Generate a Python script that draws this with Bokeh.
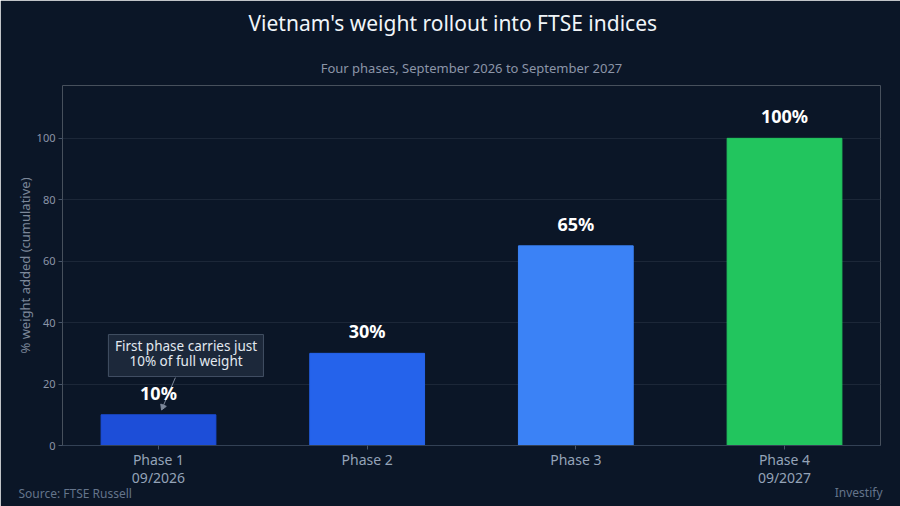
from bokeh.plotting import figure
from bokeh.models import ColumnDataSource, Range1d, FixedTicker, Title
from bokeh.embed import file_html
from bokeh.resources import INLINE

phases = ["Phase 1\n09/2026", "Phase 2", "Phase 3", "Phase 4\n09/2027"]
weights = [10, 30, 65, 100]
bar_labels = ["10%", "30%", "65%", "100%"]
bar_colors = ["#1d4ed8", "#2563eb", "#3b82f6", "#22c55e"]
y_ticks = [0, 20, 40, 60, 80, 100]
note = "First phase carries just\n10% of full weight"

BG = "#0b1627"
FONT = "Noto Sans"

xs = list(range(len(phases)))
src = ColumnDataSource(data=dict(x=xs, top=weights, label=bar_labels, color=bar_colors))

p = figure(width=900, height=506, output_backend="svg", toolbar_location=None, title=None,
           x_range=Range1d(-0.46, 3.46), y_range=Range1d(0, 117.2),
           min_border_left=62, min_border_right=20, min_border_top=85, min_border_bottom=61)
p.background_fill_color = BG
p.border_fill_color = BG
p.outline_line_color = None
p.outline_line_alpha = 0
p.outline_line_width = 0

p.vbar(x="x", top="top", width=0.55, color="color", source=src)

# callout box behind the note
p.quad(left=[-0.240], right=[0.503], bottom=[22.45], top=[36.12],
       fill_color="#1e293b", fill_alpha=0.95, line_color="#475569", line_alpha=0.9)
p.text(x=[0.132], y=[30.0], text=[note], text_align="center", text_baseline="middle",
       text_font={"value": FONT}, text_font_size="13.5px", text_color="#e2e8f0",
       text_line_height=0.87)

# pointer from the note down to the first bar
p.segment(x0=[0.081], y0=[22.1], x1=[0.021], y1=[12.6], line_color="#7c8799", line_width=1)
p.scatter(x=[0.021], y=[12.6], marker="inverted_triangle", size=6, angle=-22.7,
          angle_units="deg", fill_color="#7c8799", line_color="#7c8799")

p.text(x="x", y="top", text="label", source=src, text_align="center", text_baseline="middle",
       y_offset=-22, text_color="#ffffff", text_font_size="18px", text_font_style="bold",
       text_font={"value": FONT})

# axes
p.xaxis.ticker = FixedTicker(ticks=xs)
p.xaxis.major_label_overrides = {i: lab for i, lab in enumerate(phases)}
p.xaxis.major_label_text_font_size = "14px"
p.xaxis.major_label_text_color = "#94a3b8"
p.xaxis.major_label_text_font = FONT
p.xaxis.major_label_text_line_height = 0.95
p.xaxis.axis_line_color = "#334155"
p.xaxis.major_tick_line_color = "#475569"
p.xaxis.major_tick_out = 4
p.xaxis.major_tick_in = 0
p.xaxis.minor_tick_line_color = None
p.xaxis.major_label_standoff = 0

p.yaxis.ticker = FixedTicker(ticks=y_ticks)
p.yaxis.axis_label = "% weight added (cumulative)"
p.yaxis.axis_label_text_font = FONT
p.yaxis.axis_label_text_font_style = "normal"
p.yaxis.axis_label_text_font_size = "13px"
p.yaxis.axis_label_text_color = "#7c8799"
p.yaxis.axis_label_standoff = 0
p.yaxis.major_label_text_font_size = "11px"
p.yaxis.major_label_text_color = "#8b95a7"
p.yaxis.major_label_text_font = FONT
p.yaxis.axis_line_color = None
p.yaxis.major_tick_line_color = "#475569"
p.yaxis.major_tick_out = 4
p.yaxis.major_tick_in = 0
p.yaxis.minor_tick_line_color = None
p.yaxis.major_label_standoff = 3

p.xgrid.grid_line_color = None
p.ygrid.grid_line_color = "#1c2738"

# titles and footer
p.add_layout(Title(text="Four phases, September 2026 to September 2027", align="center",
                   text_font=FONT, text_font_size="13px", text_font_style="normal",
                   text_color="#8b95a7", standoff=18), "above")
p.add_layout(Title(text="Vietnam's weight rollout into FTSE indices", align="left", offset=186,
                   vertical_align="top", text_font=FONT, text_font_size="21px",
                   text_font_style="normal", text_color="#f1f5f9", standoff=17), "above")
p.add_layout(Title(text="Source: FTSE Russell", align="left", offset=-44, vertical_align="top",
                   text_font=FONT, text_font_size="12px", text_font_style="normal",
                   text_color="#64748b", standoff=-10), "below")
p.add_layout(Title(text="Investify", align="right", offset=-2, vertical_align="top",
                   text_font=FONT, text_font_size="12px", text_font_style="normal",
                   text_color="#64748b", standoff=-30), "below")

open("out.html", "w").write(file_html(p, INLINE))
